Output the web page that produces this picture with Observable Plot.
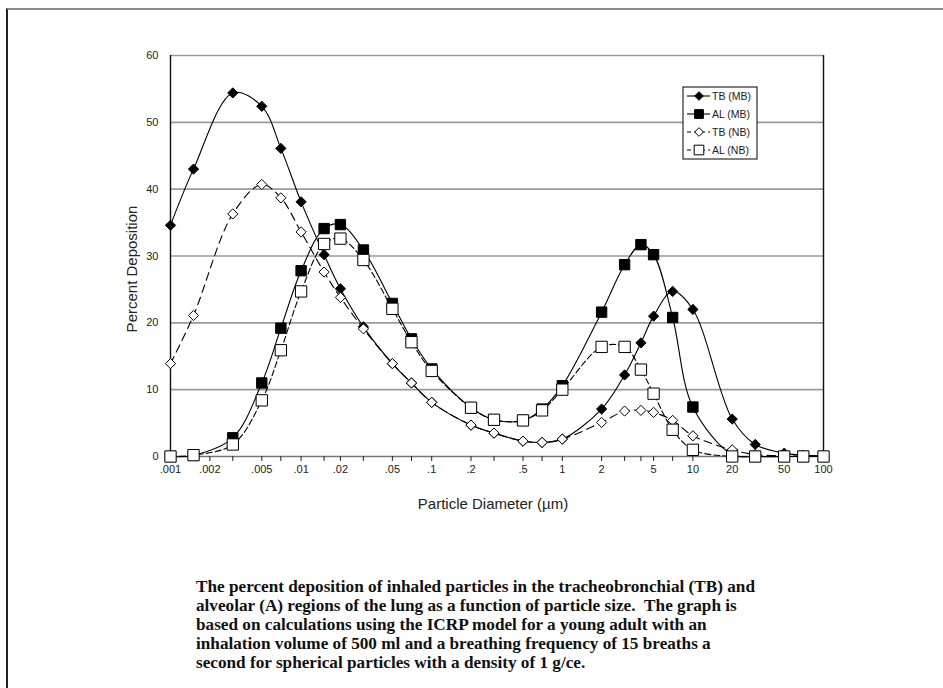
<!DOCTYPE html>
<html>
<head>
<meta charset="utf-8">
<script src="https://cdn.jsdelivr.net/npm/d3@7"></script>
<script src="https://cdn.jsdelivr.net/npm/@observablehq/plot@0.6"></script>
<style>
  html, body { margin: 0; padding: 0; background: #fff; }
  body { width: 943px; height: 688px; position: relative; overflow: hidden; }
  #frame { position: absolute; left: 6px; top: 8px; right: -10px; bottom: -10px;
           border-top: 2px solid #8a8a8a; border-left: 2px solid #222; }
  #chart { position: absolute; left: 0; top: 0; }
  #caption { position: absolute; left: 196px; top: 577px; font-family: "Liberation Serif", "Times New Roman", serif;
             font-weight: bold; font-size: 17.2px; line-height: 19px; color: #111; white-space: nowrap; }
</style>
</head>
<body>
<div id="frame"></div>
<div id="chart"></div>
<div id="caption"></div>
<script>
// Particle diameters (µm) of the data points
const sizes = [0.001, 0.0015, 0.003, 0.005, 0.007, 0.01, 0.015, 0.02, 0.03, 0.05, 0.07, 0.1, 0.2, 0.3, 0.5, 0.7, 1, 2, 3, 4, 5, 7, 10, 20, 30, 50, 70, 100];
// Percent deposition per series
const tbMB = [34.6, 43.0, 54.4, 52.4, 46.1, 38.1, 30.2, 25.1, 19.4, 13.9, 11.0, 8.1, 4.7, 3.5, 2.3, 2.1, 2.6, 7.1, 12.2, 17.0, 21.0, 24.7, 22.0, 5.6, 1.8, 0.5, 0.2, 0.1];
const alMB = [0, 0.2, 2.8, 11.0, 19.2, 27.8, 34.1, 34.7, 30.9, 22.9, 17.6, 13.1, 7.3, 5.5, 5.4, 7.1, 10.6, 21.6, 28.7, 31.7, 30.2, 20.8, 7.4, 0.3, 0, 0, 0, 0];
const tbNB = [13.9, 21.1, 36.3, 40.7, 38.7, 33.6, 27.6, 23.8, 19.1, 13.9, 11.0, 8.1, 4.7, 3.5, 2.3, 2.1, 2.6, 5.1, 6.8, 6.9, 6.6, 5.4, 3.1, 1.0, 0.3, 0.1, 0.05, 0];
const alNB = [0, 0.2, 1.8, 8.4, 15.9, 24.7, 31.8, 32.6, 29.4, 22.1, 17.1, 12.8, 7.3, 5.5, 5.4, 6.9, 10.0, 16.4, 16.4, 13.0, 9.4, 4.0, 1.0, 0, 0, 0, 0, 0];

const seriesNames = ["TB (MB)", "AL (MB)", "TB (NB)", "AL (NB)"];
const xTickLabels = [".001", ".002", ".005", ".01", ".02", ".05", ".1", ".2", ".5", "1", "2", "5", "10", "20", "50", "100"];
const xTickValues = [0.001, 0.002, 0.005, 0.01, 0.02, 0.05, 0.1, 0.2, 0.5, 1, 2, 5, 10, 20, 50, 100];
const yTicks = [0, 10, 20, 30, 40, 50, 60];
const xLabel = "Particle Diameter (µm)";
const yLabel = "Percent Deposition";
const captionLines = [
  "The percent deposition of inhaled particles in the tracheobronchial (TB) and",
  "alveolar (A) regions of the lung as a function of particle size.  The graph is",
  "based on calculations using the ICRP model for a young adult with an",
  "inhalation volume of 500 ml and a breathing frequency of 15 breaths a",
  "second for spherical particles with a density of 1 g/ce."
];

const seriesValues = [tbMB, alMB, tbNB, alNB];
const styles = {
  "TB (MB)": {symbol: "diamond2", fill: "black", r: 4.6, dash: null},
  "AL (MB)": {symbol: "square2", fill: "black", r: 6.6, dash: null},
  "TB (NB)": {symbol: "diamond2", fill: "white", r: 4.6, dash: "8,5"},
  "AL (NB)": {symbol: "square2", fill: "white", r: 7.2, dash: "6,3"}
};
const rows = seriesNames.map((name, k) => sizes.map((d, i) => ({series: name, d, v: seriesValues[k][i]})));

const allTicks = Array.from(new Set([...sizes, 0.002])).sort((a, b) => a - b);
const tickLabelRows = xTickValues.map((v, i) => ({v, label: xTickLabels[i]}));

const marks = [
  Plot.gridY(yTicks.filter(d => d > 0), {stroke: "#9a9a9a", strokeOpacity: 1, strokeWidth: 1.6}),
  Plot.ruleY([0], {stroke: "#777", strokeWidth: 1.6}),
  Plot.ruleX([sizes[0], sizes[sizes.length - 1]], {stroke: "#111", strokeWidth: 1.4}),
  Plot.axisX({ticks: allTicks, tickFormat: () => "", tickSize: 5, label: null, stroke: "#222"}),
  Plot.text(tickLabelRows, {x: "v", text: "label", frameAnchor: "bottom", lineAnchor: "top", dy: 9, fontSize: 11, fill: "#222"}),
  Plot.axisY({ticks: yTicks, tickSize: 0, tickPadding: 12, label: null, fontSize: 11}),
  Plot.text([xLabel], {frameAnchor: "bottom", dy: 52, dx: -4, fontSize: 15, fill: "#222"}),
  Plot.text([yLabel], {frameAnchor: "left", textAnchor: "middle", dx: -38, dy: 13, rotate: -90, fontSize: 15, fill: "#222"})
];
for (const name of seriesNames) {
  const s = styles[name];
  const data = rows[seriesNames.indexOf(name)];
  marks.push(Plot.line(data, {x: "d", y: "v", curve: "catmull-rom", stroke: "black", strokeWidth: 1.1,
                              strokeDasharray: s.dash ?? undefined}));
}
for (const name of seriesNames) {
  const s = styles[name];
  const data = rows[seriesNames.indexOf(name)];
  marks.push(Plot.dot(data, {x: "d", y: "v", symbol: () => s.symbol, r: s.r, fill: s.fill, stroke: "black", strokeWidth: 1}));
}

const chart = Plot.plot({
  width: 943, height: 530,
  marginLeft: 170, marginRight: 120, marginTop: 55, marginBottom: 74,
  x: {type: "log", domain: [0.001, 100]},
  y: {domain: [0, 60]},
  symbol: {type: "identity"},
  style: {fontFamily: "'Liberation Sans', Arial, sans-serif", fontSize: "11px", color: "#222", background: "transparent"},
  marks
});
document.getElementById("chart").append(chart);

// Legend (drawn inside the SVG)
const svg = d3.select(chart);
const lg = svg.append("g").attr("font-family", "'Liberation Sans', Arial, sans-serif").attr("font-size", 10.5)
  .attr("text-anchor", "start");
lg.append("rect").attr("x", 683).attr("y", 87).attr("width", 74).attr("height", 72)
  .attr("fill", "white").attr("stroke", "black").attr("stroke-width", 1);
seriesNames.forEach((name, i) => {
  const s = styles[name];
  const y = 96 + i * 18;
  lg.append("line").attr("x1", 687).attr("x2", 710).attr("y1", y).attr("y2", y)
    .attr("stroke", "black").attr("stroke-width", 1.1).attr("stroke-dasharray", s.dash ? "4,3" : null);
  const sym = s.symbol === "diamond2" ? d3.symbolDiamond2 : d3.symbolSquare2;
  const size = Math.PI * (s.r * 0.85) ** 2;
  lg.append("path").attr("d", d3.symbol(sym, size)()).attr("transform", `translate(699,${y})`)
    .attr("fill", s.fill).attr("stroke", "black");
  lg.append("text").attr("x", 712).attr("y", y).attr("dy", "0.35em").attr("text-anchor", "start")
    .attr("fill", "#222").text(name);
});

document.getElementById("caption").innerHTML = captionLines.map(l => l.replace(/  /g, " &nbsp;")).join("<br>");
</script>
</body>
</html>
